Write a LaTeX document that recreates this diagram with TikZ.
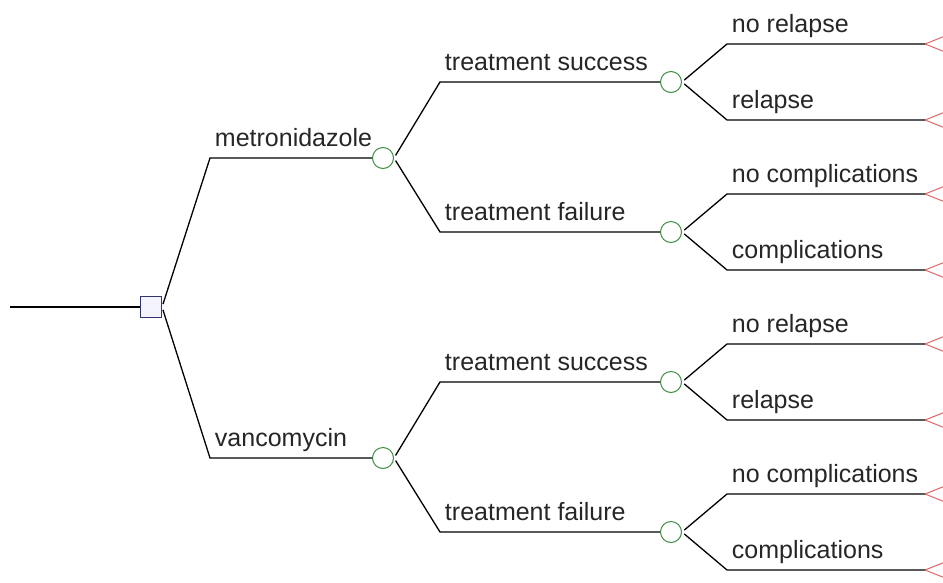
\documentclass[tikz,border=0pt]{standalone}
\usepackage{fontspec}
\setmainfont{Liberation Sans}
\definecolor{decline}{HTML}{33336E}
\definecolor{decfill}{HTML}{F4F4FF}
\definecolor{chline}{HTML}{3E8C3E}
\definecolor{leafline}{HTML}{E06464}
\begin{document}
\begin{tikzpicture}[x=1pt,y=-1pt,line width=1.3pt,
    decision/.style={draw=decline,fill=decfill,minimum size=21pt,inner sep=0pt,line width=1.1pt},
    chance/.style={circle,draw=chline,minimum size=21pt,inner sep=0pt,line width=1pt},
    branch/.style={shorten <=3pt},
    lbl/.style={anchor=base west,xshift=1pt,yshift=12pt,text=black!85,font=\fontsize{25}{30}\selectfont}]
    \useasboundingbox (0,0) rectangle (943,582);
    % columns where the branches turn flat
    \coordinate (col1) at (210,0);
    \coordinate (col2) at (440,0);
    \coordinate (col3) at (727,0);
    % nodes of the tree
    \coordinate (start) at (10,307);
    \node[decision] (d) at (151,307) {};
    \node[chance] (m) at (383,158) {};
    \node[chance] (v) at (383,458) {};
    \node[chance] (ms) at (671,82) {};
    \node[chance] (mf) at (671,232) {};
    \node[chance] (vs) at (671,382) {};
    \node[chance] (vf) at (671,532) {};
    \foreach \l/\y in {ms1/44,ms2/120,mf1/194,mf2/270,vs1/344,vs2/420,vf1/494,vf2/570}{
        \coordinate (\l) at (925,\y);
        \draw[leafline,line width=1pt] (\l)--++(20,-8) (\l)--++(20,8);
    }
    \draw (start)--(d);
    \foreach \p/\c/\col/\txt in {d/m/col1/metronidazole,d/v/col1/vancomycin,
        m/ms/col2/treatment success,m/mf/col2/treatment failure,
        v/vs/col2/treatment success,v/vf/col2/treatment failure,
        ms/ms1/col3/no relapse,ms/ms2/col3/relapse,
        mf/mf1/col3/no complications,mf/mf2/col3/complications,
        vs/vs1/col3/no relapse,vs/vs2/col3/relapse,
        vf/vf1/col3/no complications,vf/vf2/col3/complications}{
        \draw[branch] (\p.east)--(\c -| \col)--node[lbl,pos=0]{\txt}(\c);
    }
\end{tikzpicture}
\end{document}
